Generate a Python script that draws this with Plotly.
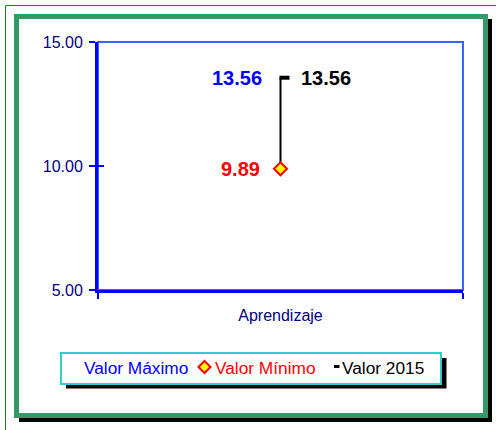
import plotly.graph_objects as go

# ---- data ----
categories = ["Aprendizaje"]
valor_maximo = [13.56]
valor_minimo = [9.89]
valor_2015 = [13.56]
y_tickvals = [5, 10, 15]
y_range = [5, 15]
legend_labels = ["Valor Máximo", "Valor Mínimo", "Valor 2015"]

FONT = "Arial, Liberation Sans, sans-serif"
W, H = 496, 430
L, T, R, B = 98, 42, 33, 140
PW, PH = W - L - R, H - T - B


def px(x):
    return (x - L) / PW


def py(y):
    return (H - B - y) / PH


fig = go.Figure()

# high-low line between min and max
for i, c in enumerate(categories):
    fig.add_trace(go.Scatter(
        x=[c, c], y=[valor_minimo[i], valor_maximo[i]], mode="lines",
        line=dict(color="black", width=2), showlegend=False, hoverinfo="skip"))

# Valor Máximo (no visible marker) - on overlay axis to carry inside ticks
fig.add_trace(go.Scatter(x=categories, y=valor_maximo, mode="markers", yaxis="y2",
                         marker=dict(size=1, color="rgba(0,0,0,0)"),
                         name=legend_labels[0], showlegend=False))
# Valor Mínimo
fig.add_trace(go.Scatter(x=categories, y=valor_minimo, mode="markers",
                         marker=dict(symbol="diamond", size=10, color="#FFFF00",
                                     line=dict(color="#FF0000", width=2)),
                         name=legend_labels[1], showlegend=False))

shapes = []
# outer thin green lines
shapes.append(dict(type="line", xref="paper", yref="paper", x0=px(5.5), x1=px(W), y0=py(5.5), y1=py(5.5),
                   line=dict(color="#1f7f1f", width=1), layer="below"))
shapes.append(dict(type="line", xref="paper", yref="paper", x0=px(5.5), x1=px(5.5), y0=py(5.5), y1=py(H),
                   line=dict(color="#1f7f1f", width=1), layer="below"))
# frame shadow + frame
shapes.append(dict(type="rect", xref="paper", yref="paper", x0=px(19), x1=px(492), y0=py(19), y1=py(422),
                   fillcolor="black", line=dict(width=0), layer="below"))
shapes.append(dict(type="rect", xref="paper", yref="paper", x0=px(16.5), x1=px(485.5), y0=py(16.5), y1=py(415.5),
                   fillcolor="white", line=dict(color="#339966", width=5), layer="below"))
# plot area border
shapes.append(dict(type="rect", xref="paper", yref="paper", x0=0, x1=1, y0=0, y1=1,
                   line=dict(color="#3366FF", width=2), layer="below"))
# legend shadow + box
shapes.append(dict(type="rect", xref="paper", yref="paper", x0=px(66), x1=px(446.5), y0=py(358), y1=py(388.5),
                   fillcolor="black", line=dict(width=0), layer="below"))
shapes.append(dict(type="rect", xref="paper", yref="paper", x0=px(61), x1=px(441), y0=py(353), y1=py(384),
                   fillcolor="white", line=dict(color="#33CCCC", width=2), layer="below"))
# legend diamond
cx, cy, r = 204.5, 367, 6
shapes.append(dict(type="path", xref="paper", yref="paper",
                   path=f"M {px(cx-r)} {py(cy)} L {px(cx)} {py(cy-r)} L {px(cx+r)} {py(cy)} L {px(cx)} {py(cy+r)} Z",
                   fillcolor="#FFFF00", line=dict(color="#FF0000", width=2), layer="above"))
# legend dash
shapes.append(dict(type="line", xref="paper", yref="paper", x0=px(334), x1=px(339.5), y0=py(366.5), y1=py(366.5),
                   line=dict(color="black", width=3), layer="above"))
# Valor 2015 dash marker
for i, c in enumerate(categories):
    shapes.append(dict(type="line", xref="x", yref="y", xsizemode="pixel", xanchor=i,
                       x0=-1, x1=9, y0=valor_2015[i], y1=valor_2015[i],
                       line=dict(color="black", width=4), layer="above"))

annotations = []
for i, c in enumerate(categories):
    annotations.append(dict(x=c, y=valor_maximo[i], xref="x", yref="y", text=f"<b>{valor_maximo[i]:.2f}</b>",
                            showarrow=False, xanchor="right", xshift=-17,
                            font=dict(family=FONT, size=20, color="#0000FF")))
    annotations.append(dict(x=c, y=valor_minimo[i], xref="x", yref="y", text=f"<b>{valor_minimo[i]:.2f}</b>",
                            showarrow=False, xanchor="right", xshift=-19,
                            font=dict(family=FONT, size=20, color="#FF0000")))
    annotations.append(dict(x=c, y=valor_2015[i], xref="x", yref="y", text=f"<b>{valor_2015[i]:.2f}</b>",
                            showarrow=False, xanchor="left", xshift=18,
                            font=dict(family=FONT, size=20, color="black")))

for txt, xl, col in zip(legend_labels, [81.5, 213, 340], ["#0000FF", "#FF0000", "black"]):
    annotations.append(dict(x=px(xl), y=py(367.5), xref="paper", yref="paper", text=txt, showarrow=False,
                            xanchor="left", yanchor="middle", font=dict(family=FONT, size=17.3, color=col)))

fig.update_layout(
    width=W, height=H, margin=dict(l=L, r=R, t=T, b=B),
    paper_bgcolor="white", plot_bgcolor="rgba(0,0,0,0)",
    showlegend=False, shapes=shapes, annotations=annotations,
    font=dict(family=FONT, size=16, color="#000080"),
    xaxis=dict(type="category", categoryorder="array", categoryarray=categories, range=[-0.5, len(categories) - 0.5],
               showline=True, linecolor="#0000FF", linewidth=3, ticks="outside", tickson="boundaries",
               ticklen=6, tickwidth=2, tickcolor="#0000FF", showgrid=False, zeroline=False,
               ticklabelstandoff=9,
               tickfont=dict(family=FONT, size=16, color="#000080"), fixedrange=True),
    yaxis=dict(range=y_range, tickvals=y_tickvals, tickformat=".2f", showline=True, linecolor="#0000FF",
               linewidth=3, ticks="outside", ticklen=6, tickwidth=2, tickcolor="#0000FF", showgrid=False,
               zeroline=False, ticklabelstandoff=3,
               tickfont=dict(family=FONT, size=16, color="#000080"), fixedrange=True),
    yaxis2=dict(overlaying="y", matches="y", side="left", range=y_range, tickvals=y_tickvals,
                ticks="inside", ticklen=6, tickwidth=2, tickcolor="#0000FF", showticklabels=False,
                showline=False, showgrid=False, zeroline=False, fixedrange=True),
)

fig.write_html("out.html", config={"displayModeBar": False},
               post_script="document.body.style.margin='0';document.body.style.overflow='hidden';")
